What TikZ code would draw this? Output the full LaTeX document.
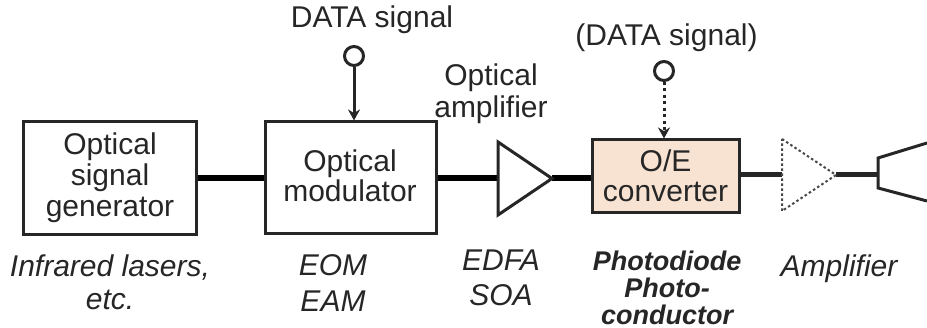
\documentclass[tikz,border=0pt]{standalone}
\usepackage{fontspec}
\setmainfont{Liberation Sans}
\usetikzlibrary{arrows.meta}
\definecolor{ink}{HTML}{262626}
\definecolor{peach}{HTML}{F8E2D2}
\tikzset{
  lab/.style={align=center,inner sep=0pt,text=ink,font=\fontsize{30}{31}\selectfont},
  labtight/.style={lab,font=\fontsize{30}{30}\selectfont},
  ital/.style={lab,font=\fontsize{30}{33}\selectfont\itshape},
  italwide/.style={lab,font=\fontsize{30}{36}\selectfont\itshape},
  boldital/.style={lab,font=\fontsize{27}{27}\selectfont\bfseries\itshape},
  blockbox/.style={draw=ink,line width=3pt,inner sep=0pt,lab},
  fibre/.style={draw=black,line width=6pt},
  thinfibre/.style={draw=ink,line width=5pt},
  amp/.style={draw=ink,line width=3pt,fill=white,line join=miter},
  dotamp/.style={draw=ink!85,line width=2pt,dash pattern=on 2.5pt off 2.5pt,fill=white},
  port/.style={circle,draw=ink,line width=3pt,fill=white,minimum size=19pt,inner sep=0pt},
  sig/.style={draw=ink,line width=3pt,-{Stealth[length=11pt,width=12pt]}},
}
\begin{document}
\begin{tikzpicture}[x=1pt,y=-1pt]
\useasboundingbox (0,0) rectangle (927,328);
% blocks
\node[blockbox,minimum width=173pt,minimum height=113pt] (gen) at (109.5,178.5) {};
\node[lab] (gentext) at (110,177.5) {Optical\\signal\\generator};
\node[blockbox,minimum width=171pt,minimum height=112pt] (mod) at (350.5,178) {};
\node[labtight] (modtext) at (350,175.5) {Optical\\modulator};
\node[blockbox,fill=peach,minimum width=147pt,minimum height=73pt] (oe) at (665.5,176.5) {};
\node[labtight] (oetext) at (665.5,175.5) {O/E\\converter};
% amplifier reference points
\coordinate (ampin) at (498,178.5);
\coordinate (ampout) at (552,178.5);
\coordinate (damin) at (782,175);
\coordinate (damout) at (836,175);
\coordinate (hornin) at (878,175);
% connectors
\draw[fibre] (gen.east |- ampin) -- (mod.west |- ampin);
\draw[fibre] (mod.east |- ampin) -- (ampin);
\draw[fibre] (ampout) -- (oe.west |- ampout);
\draw[thinfibre] (oe.east |- damin) -- (damin);
\draw[thinfibre] (damout) -- (hornin);
% amplifiers
\draw[amp] (498,142) -- (ampout) -- (498,215) -- cycle;
\draw[dotamp] (782,139) -- (damout) -- (782,211) -- cycle;
% horn
\draw[amp] (927,143) -- (878,158) -- (hornin) -- (878,188) -- (927,201);
% inputs
\node[port] (d1) at (354,56) {};
\node[port] (d2) at (664,71) {};
\draw[sig] (d1) -- (d1 |- mod.north);
\draw[sig,dash pattern=on 3pt off 3.5pt] (d2) -- (d2 |- oe.north);
% labels
\node[lab] (tdata) at (372,20) {DATA signal};
\node[lab] (tdata2) at (666.5,38) {(DATA signal)};
\node[lab,font=\fontsize{30}{32}\selectfont] (topt) at (491,94) {Optical\\amplifier};
\node[ital] (n1) at (110,282) {Infrared lasers,\\etc.};
\node[italwide] (n2) at (333,283.5) {EOM\\EAM};
\node[italwide,font=\fontsize{30}{35}\selectfont\itshape] (n3) at (501,278) {EDFA\\SOA};
\node[boldital] (n4) at (667,288) {Photodiode\\Photo-\\conductor};
\node[ital] (n5) at (839,269) {Amplifier};
\end{tikzpicture}
\end{document}
